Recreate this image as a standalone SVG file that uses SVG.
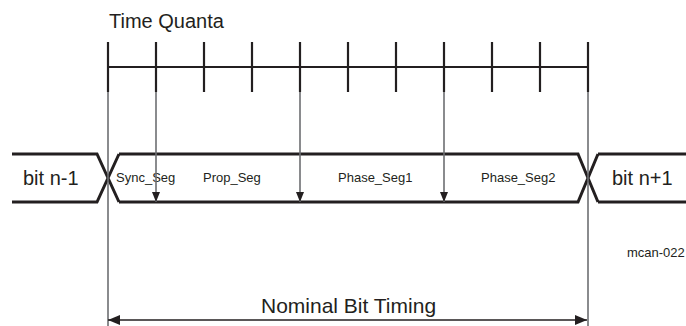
<svg xmlns="http://www.w3.org/2000/svg" width="686" height="326" viewBox="0 0 686 326">
<style>
.t{font-family:"Liberation Sans",Arial,sans-serif;fill:#231f20}
.big{font-size:20px}
.sm{font-size:13px}
.sig{fill:none;stroke:#231f20;stroke-width:3;stroke-linejoin:miter}
.tick{stroke:#231f20;stroke-width:2.2}
.guide{stroke:#6d6e71;stroke-width:1.6}
.arr{stroke:#231f20;stroke-width:1.4}
</style>
<defs>
<marker id="ah" viewBox="0 0 10 8" refX="10" refY="4" markerWidth="10" markerHeight="8" markerUnits="userSpaceOnUse" orient="auto">
<path d="M0,0 L10,4 L0,8 Z" fill="#231f20"/>
</marker>
<marker id="ah2" viewBox="0 0 12 10" refX="12" refY="5" markerWidth="12" markerHeight="10" markerUnits="userSpaceOnUse" orient="auto-start-reverse">
<path d="M0,0 L12,5 L0,10 Z" fill="#231f20"/>
</marker>
</defs>
<g id="time-quanta">
<text class="t big" x="109" y="28">Time Quanta</text>
<line class="tick" x1="108" y1="67" x2="588" y2="67"/>
<line class="tick" x1="108" y1="42" x2="108" y2="92"/>
<line class="tick" x1="156" y1="42" x2="156" y2="92"/>
<line class="tick" x1="204" y1="42" x2="204" y2="92"/>
<line class="tick" x1="252" y1="42" x2="252" y2="92"/>
<line class="tick" x1="300" y1="42" x2="300" y2="92"/>
<line class="tick" x1="348" y1="42" x2="348" y2="92"/>
<line class="tick" x1="396" y1="42" x2="396" y2="92"/>
<line class="tick" x1="444" y1="42" x2="444" y2="92"/>
<line class="tick" x1="492" y1="42" x2="492" y2="92"/>
<line class="tick" x1="540" y1="42" x2="540" y2="92"/>
<line class="tick" x1="588" y1="42" x2="588" y2="92"/>
</g>
<g id="bit-n-1">
<path class="sig" d="M12,154 L97,154 L119,202 M12,202 L97,202 L119,154"/>
<text class="t big" x="23" y="185">bit n-1</text>
</g>
<g id="bit-n">
<path class="sig" d="M119,154 L578,154 L598,202 M119,202 L578,202 L598,154"/>
<text class="t sm" x="116" y="182">Sync_Seg</text>
<text class="t sm" x="203" y="182">Prop_Seg</text>
<text class="t sm" x="338" y="182">Phase_Seg1</text>
<text class="t sm" x="481" y="182">Phase_Seg2</text>
</g>
<g id="bit-n+1">
<path class="sig" d="M598,154 L686,154 M598,202 L686,202"/>
<text class="t big" x="612" y="185">bit n+1</text>
</g>
<g id="label">
<text class="t sm" x="627" y="257">mcan-022</text>
<text class="t" style="font-size:21px" x="261" y="313">Nominal Bit Timing</text>
</g>
<g id="connectors">
<line class="guide" x1="108" y1="92" x2="108" y2="326"/>
<line class="guide" x1="588" y1="92" x2="588" y2="326"/>
<line class="guide" x1="156" y1="92" x2="156" y2="202" marker-end="url(#ah)"/>
<line class="guide" x1="300" y1="92" x2="300" y2="202" marker-end="url(#ah)"/>
<line class="guide" x1="444" y1="92" x2="444" y2="202" marker-end="url(#ah)"/>
<line class="arr" x1="108" y1="320" x2="587" y2="320" marker-start="url(#ah2)" marker-end="url(#ah2)"/>
</g>
</svg>
